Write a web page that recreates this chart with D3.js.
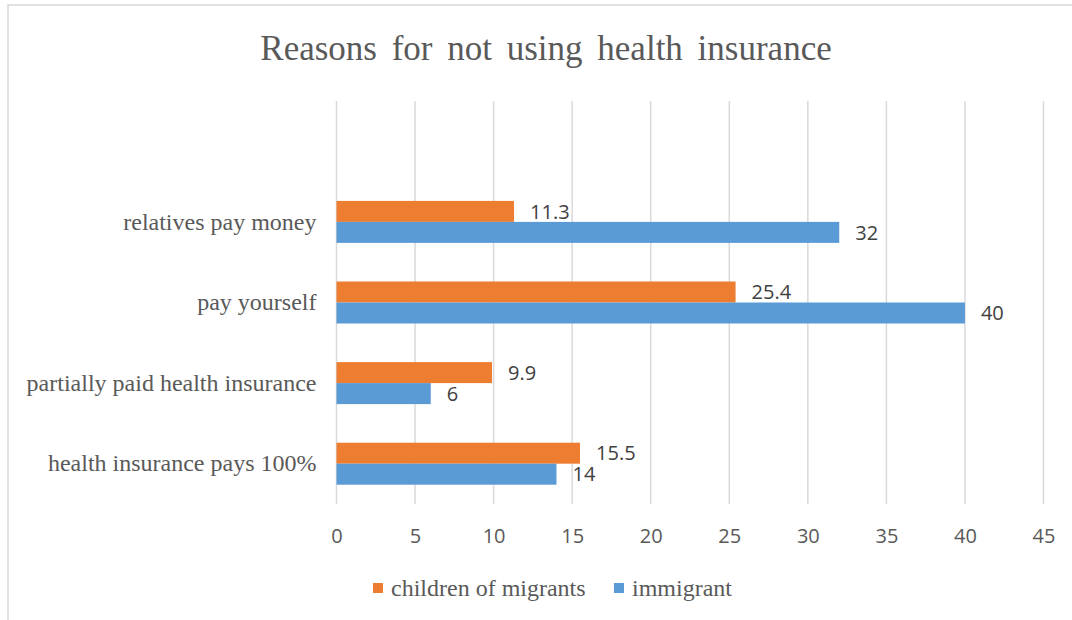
<!DOCTYPE html>
<html>
<head>
<meta charset="utf-8">
<script src="https://cdn.jsdelivr.net/npm/d3@7"></script>
<style>
  html, body { margin: 0; padding: 0; background: #fff; }
  svg { display: block; }
</style>
</head>
<body>
<svg id="chart" width="1072" height="620"></svg>
<script>
// Categories listed top to bottom; the first slot is an empty row of the source table
const categories = ["", "relatives pay money", "pay yourself", "partially paid health insurance", "health insurance pays 100%"];
const seriesNames = ["children of migrants", "immigrant"];
const childrenOfMigrants = [null, 11.3, 25.4, 9.9, 15.5];
const immigrant = [null, 32, 40, 6, 14];
const xTicks = [0, 5, 10, 15, 20, 25, 30, 35, 40, 45];
const colors = ["#ED7D31", "#5B9BD5"];
const title = "Reasons for not using health insurance";

const svg = d3.select("#chart");
const W = 1072, H = 620;

// chart frame (right and bottom edges fall outside the view)
svg.append("rect")
  .attr("x", 8).attr("y", 5)
  .attr("width", W + 20).attr("height", H + 20)
  .attr("fill", "#fff")
  .attr("stroke", "#d9d9d9").attr("stroke-width", 1.5);

const plot = { left: 336.5, right: 1043.5, top: 101, bottom: 504 };

const x = d3.scaleLinear().domain([0, 45]).range([plot.left, plot.right]);
const y = d3.scaleBand().domain(categories)
  .range([plot.top, plot.bottom])
  .paddingInner(0.479).paddingOuter(0.2395);
const sub = d3.scaleBand().domain(seriesNames).range([0, y.bandwidth()]);

const serif = "'Liberation Serif', 'Times New Roman', serif";

// title
svg.append("text")
  .attr("x", 546).attr("y", 60)
  .attr("text-anchor", "middle")
  .attr("font-family", serif)
  .attr("font-size", 35)
  .attr("word-spacing", 6)
  .attr("fill", "#595959")
  .text(title);

// vertical gridlines
svg.append("g").selectAll("line").data(xTicks).join("line")
  .attr("x1", d => x(d)).attr("x2", d => x(d))
  .attr("y1", plot.top).attr("y2", plot.bottom)
  .attr("stroke", "#d9d9d9").attr("stroke-width", 1.5);

// x axis tick labels
const xAxis = d3.axisBottom(x).tickValues(xTicks).tickSize(0).tickPadding(0);
const gx = svg.append("g")
  .attr("transform", `translate(0,${plot.bottom + 39})`)
  .call(xAxis);
gx.select(".domain").remove();
gx.selectAll("text")
  .attr("dy", 0)
  .attr("font-family", "'Open Sans', sans-serif")
  .attr("font-size", 20)
  .attr("fill", "#595959");

// category labels
const yAxis = d3.axisLeft(y).tickSize(0).tickPadding(20);
const gy = svg.append("g")
  .attr("transform", `translate(${plot.left},0)`)
  .call(yAxis);
gy.select(".domain").remove();
gy.selectAll("text")
  .attr("font-family", serif)
  .attr("font-size", 24)
  .attr("fill", "#595959");

// bars and value labels
const seriesData = [childrenOfMigrants, immigrant];
seriesData.forEach((vals, si) => {
  const rows = categories.map((c, i) => ({ cat: c, v: vals[i] })).filter(d => d.v != null);
  const g = svg.append("g");
  g.selectAll("rect").data(rows).join("rect")
    .attr("x", x(0))
    .attr("y", d => y(d.cat) + sub(seriesNames[si]))
    .attr("width", d => x(d.v) - x(0))
    .attr("height", sub.bandwidth())
    .attr("fill", colors[si]);
  g.selectAll("text").data(rows).join("text")
    .attr("x", d => x(d.v) + 16)
    .attr("y", d => y(d.cat) + sub(seriesNames[si]) + sub.bandwidth() / 2)
    .attr("dy", "0.36em")
    .attr("font-family", "'Open Sans', sans-serif")
    .attr("font-size", 20)
    .attr("fill", "#404040")
    .text(d => d.v);
});

// legend
const legendItems = [
  { name: seriesNames[0], color: colors[0], x: 373 },
  { name: seriesNames[1], color: colors[1], x: 614 }
];
const lg = svg.append("g");
legendItems.forEach(it => {
  lg.append("rect")
    .attr("x", it.x).attr("y", 583)
    .attr("width", 10).attr("height", 10)
    .attr("fill", it.color);
  lg.append("text")
    .attr("x", it.x + 18).attr("y", 596)
    .attr("font-family", serif)
    .attr("font-size", 24)
    .attr("fill", "#595959")
    .text(it.name);
});
</script>
</body>
</html>
